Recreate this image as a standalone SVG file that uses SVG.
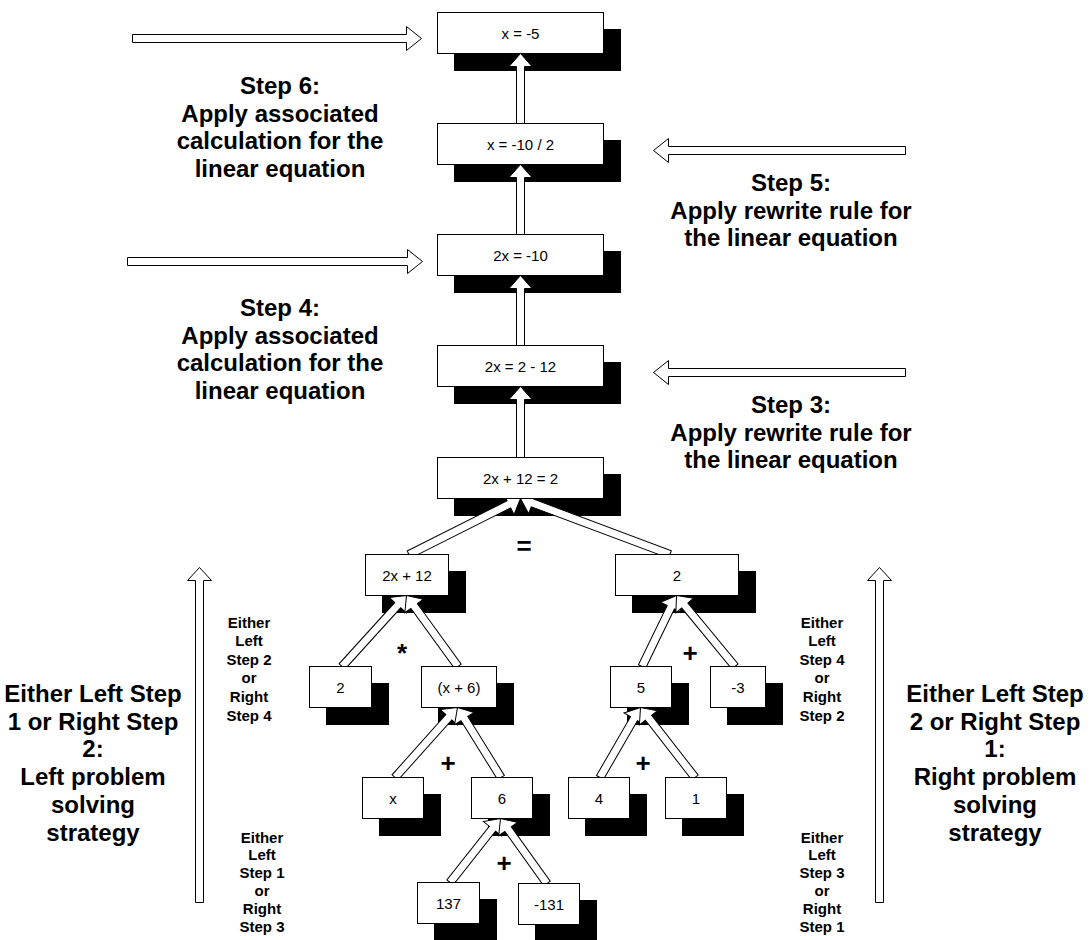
<svg xmlns="http://www.w3.org/2000/svg" width="1090" height="940" viewBox="0 0 1090 940">
  <style>
    .shadow { fill: #000; }
    .box { fill: #fff; stroke: #000; stroke-width: 1; }
    .arrow { fill: #fff; stroke: #000; stroke-width: 1; stroke-linejoin: miter; }
    .val { font-family: "Liberation Sans", Arial, sans-serif; font-size: 15px; fill: #000; text-anchor: middle; }
    .step { font-family: "Liberation Sans", Arial, sans-serif; font-size: 24px; font-weight: bold; fill: #000; text-anchor: middle; }
    .note { font-family: "Liberation Sans", Arial, sans-serif; font-size: 15px; font-weight: bold; fill: #000; text-anchor: middle; }
    .op { font-family: "Liberation Sans", Arial, sans-serif; font-size: 26px; font-weight: bold; fill: #000; text-anchor: middle; }
  </style>

  <rect width="1090" height="940" fill="#fff"/>

  <!-- drop shadows, offset 17px right and down -->
  <g id="shadows">
    <rect class="shadow" x="454" y="29" width="167" height="42"/>
    <rect class="shadow" x="454" y="140" width="167" height="42"/>
    <rect class="shadow" x="454" y="251" width="167" height="42"/>
    <rect class="shadow" x="454" y="362" width="167" height="42"/>
    <rect class="shadow" x="454" y="474" width="167" height="42"/>
    <rect class="shadow" x="382" y="571" width="84" height="42"/>
    <rect class="shadow" x="632" y="571" width="124" height="42"/>
    <rect class="shadow" x="326" y="683" width="63" height="42"/>
    <rect class="shadow" x="438" y="683" width="76" height="42"/>
    <rect class="shadow" x="627" y="683" width="62" height="42"/>
    <rect class="shadow" x="727" y="683" width="56" height="42"/>
    <rect class="shadow" x="379" y="794" width="62" height="42"/>
    <rect class="shadow" x="488" y="794" width="62" height="42"/>
    <rect class="shadow" x="585" y="794" width="62" height="42"/>
    <rect class="shadow" x="682" y="794" width="62" height="42"/>
    <rect class="shadow" x="434" y="899" width="63" height="42"/>
    <rect class="shadow" x="535" y="900" width="62" height="42"/>
  </g>

  <g id="connectors">
    <!-- vertical chain of rewrite steps -->
    <polygon class="arrow" points="520.5,53.5 532,66.5 524.5,66.5 524.5,123.5 516.5,123.5 516.5,66.5 509,66.5"/>
    <polygon class="arrow" points="520.5,164.5 532,177.5 524.5,177.5 524.5,234.5 516.5,234.5 516.5,177.5 509,177.5"/>
    <polygon class="arrow" points="520.5,275.5 532,288.5 524.5,288.5 524.5,345.5 516.5,345.5 516.5,288.5 509,288.5"/>
    <polygon class="arrow" points="520.5,386.5 532,399.5 524.5,399.5 524.5,457.5 516.5,457.5 516.5,399.5 509,399.5"/>

    <!-- expression tree: child top to parent bottom -->
    <polygon class="arrow" transform="translate(520.5 498.5) rotate(-26.67)" points="0,0 -13,-11.5 -13,-4 -124.8,-4 -124.8,4 -13,4 -13,11.5"/>
    <polygon class="arrow" transform="translate(520.5 498.5) rotate(-159.47)" points="0,0 -13,-11.5 -13,-4 -159.6,-4 -159.6,4 -13,4 -13,11.5"/>
    <polygon class="arrow" transform="translate(406.5 595.5) rotate(-47.75)" points="0,0 -13,-11.5 -13,-4 -95.9,-4 -95.9,4 -13,4 -13,11.5"/>
    <polygon class="arrow" transform="translate(406.5 595.5) rotate(-125.96)" points="0,0 -13,-11.5 -13,-4 -87.7,-4 -87.7,4 -13,4 -13,11.5"/>
    <polygon class="arrow" transform="translate(676.5 595.5) rotate(-64.09)" points="0,0 -13,-11.5 -13,-4 -78.9,-4 -78.9,4 -13,4 -13,11.5"/>
    <polygon class="arrow" transform="translate(676.5 595.5) rotate(-129.48)" points="0,0 -13,-11.5 -13,-4 -92,-4 -92,4 -13,4 -13,11.5"/>
    <polygon class="arrow" transform="translate(457.5 707.5) rotate(-48.24)" points="0,0 -13,-11.5 -13,-4 -93.8,-4 -93.8,4 -13,4 -13,11.5"/>
    <polygon class="arrow" transform="translate(457.5 707.5) rotate(-121.85)" points="0,0 -13,-11.5 -13,-4 -82.4,-4 -82.4,4 -13,4 -13,11.5"/>
    <polygon class="arrow" transform="translate(640.5 707.5) rotate(-59.94)" points="0,0 -13,-11.5 -13,-4 -80.9,-4 -80.9,4 -13,4 -13,11.5"/>
    <polygon class="arrow" transform="translate(640.5 707.5) rotate(-127.91)" points="0,0 -13,-11.5 -13,-4 -88.7,-4 -88.7,4 -13,4 -13,11.5"/>
    <polygon class="arrow" transform="translate(500.5 818.5) rotate(-51.72)" points="0,0 -13,-11.5 -13,-4 -81.5,-4 -81.5,4 -13,4 -13,11.5"/>
    <polygon class="arrow" transform="translate(500.5 818.5) rotate(-125.57)" points="0,0 -13,-11.5 -13,-4 -79.9,-4 -79.9,4 -13,4 -13,11.5"/>

    <!-- step pointers -->
    <polygon class="arrow" points="132.5,34.5 406.5,34.5 406.5,26.5 421.5,38.5 406.5,50.5 406.5,42.5 132.5,42.5"/>
    <polygon class="arrow" points="127.5,257.5 407.5,257.5 407.5,249.5 422.5,261.5 407.5,273.5 407.5,265.5 127.5,265.5"/>
    <polygon class="arrow" points="905.5,146.5 668.5,146.5 668.5,138.5 653.5,150.5 668.5,162.5 668.5,154.5 905.5,154.5"/>
    <polygon class="arrow" points="905.5,368.5 668.5,368.5 668.5,360.5 653.5,372.5 668.5,384.5 668.5,376.5 905.5,376.5"/>

    <!-- bottom-up strategy arrows -->
    <polygon class="arrow" points="199.5,567.5 211.5,580.5 203.5,580.5 203.5,902.5 195.5,902.5 195.5,580.5 187.5,580.5"/>
    <polygon class="arrow" points="879.5,567.5 891.5,580.5 883.5,580.5 883.5,902.5 875.5,902.5 875.5,580.5 867.5,580.5"/>
  </g>

  <!-- equation chain -->
  <g id="eq-x-5">
    <rect class="box" x="437.5" y="12.5" width="166" height="41"/>
    <text class="val" x="520.5" y="38.5">x = -5</text>
  </g>
  <g id="eq-x-10-2">
    <rect class="box" x="437.5" y="123.5" width="166" height="41"/>
    <text class="val" x="520.5" y="149.5">x = -10 / 2</text>
  </g>
  <g id="eq-2x-10">
    <rect class="box" x="437.5" y="234.5" width="166" height="41"/>
    <text class="val" x="520.5" y="260.5">2x = -10</text>
  </g>
  <g id="eq-2x-2-12">
    <rect class="box" x="437.5" y="345.5" width="166" height="41"/>
    <text class="val" x="520.5" y="371.5">2x = 2 - 12</text>
  </g>
  <g id="eq-root">
    <rect class="box" x="437.5" y="457.5" width="166" height="41"/>
    <text class="val" x="520.5" y="483.5">2x + 12 = 2</text>
  </g>

  <!-- expression tree nodes -->
  <g id="node-2x12">
    <rect class="box" x="365.5" y="554.5" width="83" height="41"/>
    <text class="val" x="407" y="580.5">2x + 12</text>
  </g>
  <g id="node-2-right">
    <rect class="box" x="615.5" y="554.5" width="123" height="41"/>
    <text class="val" x="677" y="580.5">2</text>
  </g>
  <g id="node-2-left">
    <rect class="box" x="309.5" y="666.5" width="62" height="41"/>
    <text class="val" x="340.5" y="692.5">2</text>
  </g>
  <g id="node-x6">
    <rect class="box" x="421.5" y="666.5" width="75" height="41"/>
    <text class="val" x="459" y="692.5">(x + 6)</text>
  </g>
  <g id="node-5">
    <rect class="box" x="610.5" y="666.5" width="61" height="41"/>
    <text class="val" x="641" y="692.5">5</text>
  </g>
  <g id="node-m3">
    <rect class="box" x="710.5" y="666.5" width="55" height="41"/>
    <text class="val" x="738" y="692.5">-3</text>
  </g>
  <g id="node-x">
    <rect class="box" x="362.5" y="777.5" width="61" height="41"/>
    <text class="val" x="393" y="803.5">x</text>
  </g>
  <g id="node-6">
    <rect class="box" x="471.5" y="777.5" width="61" height="41"/>
    <text class="val" x="502" y="803.5">6</text>
  </g>
  <g id="node-4">
    <rect class="box" x="568.5" y="777.5" width="61" height="41"/>
    <text class="val" x="599" y="803.5">4</text>
  </g>
  <g id="node-1">
    <rect class="box" x="665.5" y="777.5" width="61" height="41"/>
    <text class="val" x="696" y="803.5">1</text>
  </g>
  <g id="node-137">
    <rect class="box" x="417.5" y="882.5" width="62" height="41"/>
    <text class="val" x="448.5" y="908.5">137</text>
  </g>
  <g id="node-m131">
    <rect class="box" x="518.5" y="883.5" width="61" height="41"/>
    <text class="val" x="549" y="909.5">-131</text>
  </g>

  <!-- operators -->
  <g id="operators">
    <text class="op" x="524" y="555">=</text>
    <text class="op" x="402" y="662">*</text>
    <text class="op" x="690" y="662">+</text>
    <text class="op" x="448" y="772">+</text>
    <text class="op" x="643" y="772">+</text>
    <text class="op" x="504" y="872">+</text>
  </g>

  <!-- step descriptions -->
  <g id="step-6">
    <text class="step" x="280" y="94">Step 6:</text>
    <text class="step" x="280" y="121.5">Apply associated</text>
    <text class="step" x="280" y="149">calculation for the</text>
    <text class="step" x="280" y="176.5">linear equation</text>
  </g>
  <g id="step-5">
    <text class="step" x="791" y="191">Step 5:</text>
    <text class="step" x="791" y="218.5">Apply rewrite rule for</text>
    <text class="step" x="791" y="246">the linear equation</text>
  </g>
  <g id="step-4">
    <text class="step" x="280" y="316">Step 4:</text>
    <text class="step" x="280" y="343.5">Apply associated</text>
    <text class="step" x="280" y="371">calculation for the</text>
    <text class="step" x="280" y="398.5">linear equation</text>
  </g>
  <g id="step-3">
    <text class="step" x="791" y="413">Step 3:</text>
    <text class="step" x="791" y="440.5">Apply rewrite rule for</text>
    <text class="step" x="791" y="468">the linear equation</text>
  </g>

  <!-- strategy labels -->
  <g id="left-strategy">
    <text class="step" x="93" y="702">Either Left Step</text>
    <text class="step" x="93" y="729.7">1 or Right Step</text>
    <text class="step" x="93" y="757.4">2:</text>
    <text class="step" x="93" y="785.1">Left problem</text>
    <text class="step" x="93" y="812.8">solving</text>
    <text class="step" x="93" y="840.5">strategy</text>
  </g>
  <g id="right-strategy">
    <text class="step" x="995" y="702">Either Left Step</text>
    <text class="step" x="995" y="729.7">2 or Right Step</text>
    <text class="step" x="995" y="757.4">1:</text>
    <text class="step" x="995" y="785.1">Right problem</text>
    <text class="step" x="995" y="812.8">solving</text>
    <text class="step" x="995" y="840.5">strategy</text>
  </g>

  <!-- level notes -->
  <g id="note-left-upper">
    <text class="note" x="249" y="627.5">Either</text>
    <text class="note" x="249" y="646.1">Left</text>
    <text class="note" x="249" y="664.7">Step 2</text>
    <text class="note" x="249" y="683.3">or</text>
    <text class="note" x="249" y="701.9">Right</text>
    <text class="note" x="249" y="720.5">Step 4</text>
  </g>
  <g id="note-left-lower">
    <text class="note" x="262" y="842.5">Either</text>
    <text class="note" x="262" y="860.3">Left</text>
    <text class="note" x="262" y="878.1">Step 1</text>
    <text class="note" x="262" y="895.9">or</text>
    <text class="note" x="262" y="913.7">Right</text>
    <text class="note" x="262" y="931.5">Step 3</text>
  </g>
  <g id="note-right-upper">
    <text class="note" x="822" y="627.5">Either</text>
    <text class="note" x="822" y="646.1">Left</text>
    <text class="note" x="822" y="664.7">Step 4</text>
    <text class="note" x="822" y="683.3">or</text>
    <text class="note" x="822" y="701.9">Right</text>
    <text class="note" x="822" y="720.5">Step 2</text>
  </g>
  <g id="note-right-lower">
    <text class="note" x="822" y="842.5">Either</text>
    <text class="note" x="822" y="860.3">Left</text>
    <text class="note" x="822" y="878.1">Step 3</text>
    <text class="note" x="822" y="895.9">or</text>
    <text class="note" x="822" y="913.7">Right</text>
    <text class="note" x="822" y="931.5">Step 1</text>
  </g>
</svg>
